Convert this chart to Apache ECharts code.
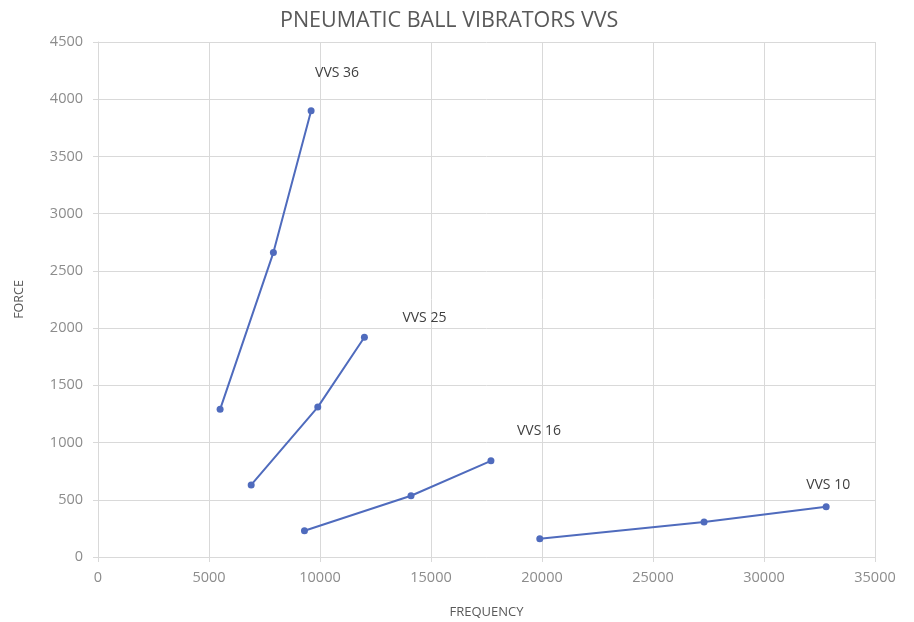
<!DOCTYPE html>
<html>
<head>
<meta charset="utf-8">
<script src="https://cdn.jsdelivr.net/npm/echarts@6/dist/echarts.min.js"></script>
<style>
  html, body { margin: 0; padding: 0; background: #fff; }
  #main { width: 914px; height: 622px; }
</style>
</head>
<body>
<div id="main"></div>
<script>
// data
const seriesNames = ['VVS 36', 'VVS 25', 'VVS 16', 'VVS 10'];
const vvs36 = [[5500, 1290], [7900, 2660], [9600, 3900]];
const vvs25 = [[6900, 630], [9900, 1310], [12000, 1920]];
const vvs16 = [[9300, 230], [14100, 535], [17700, 840]];
const vvs10 = [[19900, 160], [27300, 305], [32800, 440]];

let chartDom = document.getElementById('main');
let myChart = echarts.init(chartDom);
let option;

const lineColor = '#4f6bbd';
const labelOffsets = [[26, -22], [60, -4], [48, -14], [2, -6]];

function makeSeries(name, data, i) {
  return {
    name: name,
    type: 'line',
    data: data.map((d, j) => {
      if (j !== data.length - 1) return d;
      return {
        value: d,
        label: {
          show: true,
          formatter: name,
          position: 'top',
          offset: labelOffsets[i],
          color: '#404040',
          fontSize: 14,
          fontFamily: 'Open Sans'
        }
      };
    }),
    symbol: 'circle',
    symbolSize: 7,
    lineStyle: { color: lineColor, width: 2 },
    itemStyle: { color: lineColor },
    emphasis: { disabled: true }
  };
}

option = {
  animation: false,
  title: {
    text: 'PNEUMATIC BALL VIBRATORS VVS',
    left: 275,
    top: 5,
    textStyle: {
      color: '#595959',
      fontSize: 21.5,
      fontWeight: 'normal',
      fontFamily: 'Open Sans'
    }
  },
  grid: { left: 98, right: 39, top: 42, bottom: 65, outerBoundsMode: 'none' },
  xAxis: {
    type: 'value',
    min: 0,
    max: 35000,
    interval: 5000,
    name: 'FREQUENCY',
    nameLocation: 'middle',
    nameGap: 49,
    nameTextStyle: { color: '#595959', fontSize: 13, fontFamily: 'Open Sans' },
    axisLine: { show: true, lineStyle: { color: '#d9d9d9' } },
    axisTick: { show: true, length: 5, lineStyle: { color: '#d9d9d9' } },
    axisLabel: {
      color: '#8c8c8c', fontSize: 14.5, fontFamily: 'Open Sans', margin: 13,
      formatter: v => String(v)
    },
    splitLine: { show: true, lineStyle: { color: '#d9d9d9' } }
  },
  yAxis: {
    type: 'value',
    min: 0,
    max: 4500,
    interval: 500,
    name: 'FORCE',
    nameLocation: 'middle',
    nameGap: 72,
    nameTextStyle: { color: '#595959', fontSize: 12.5, fontFamily: 'Open Sans' },
    axisLine: { show: true, lineStyle: { color: '#d9d9d9' } },
    axisTick: { show: true, length: 5, lineStyle: { color: '#d9d9d9' } },
    axisLabel: {
      color: '#8c8c8c', fontSize: 14.5, fontFamily: 'Open Sans', margin: 15,
      formatter: v => String(v)
    },
    splitLine: { show: true, lineStyle: { color: '#d9d9d9' } }
  },
  series: [
    makeSeries(seriesNames[0], vvs36, 0),
    makeSeries(seriesNames[1], vvs25, 1),
    makeSeries(seriesNames[2], vvs16, 2),
    makeSeries(seriesNames[3], vvs10, 3)
  ]
};

option && myChart.setOption(option);
</script>
</body>
</html>
